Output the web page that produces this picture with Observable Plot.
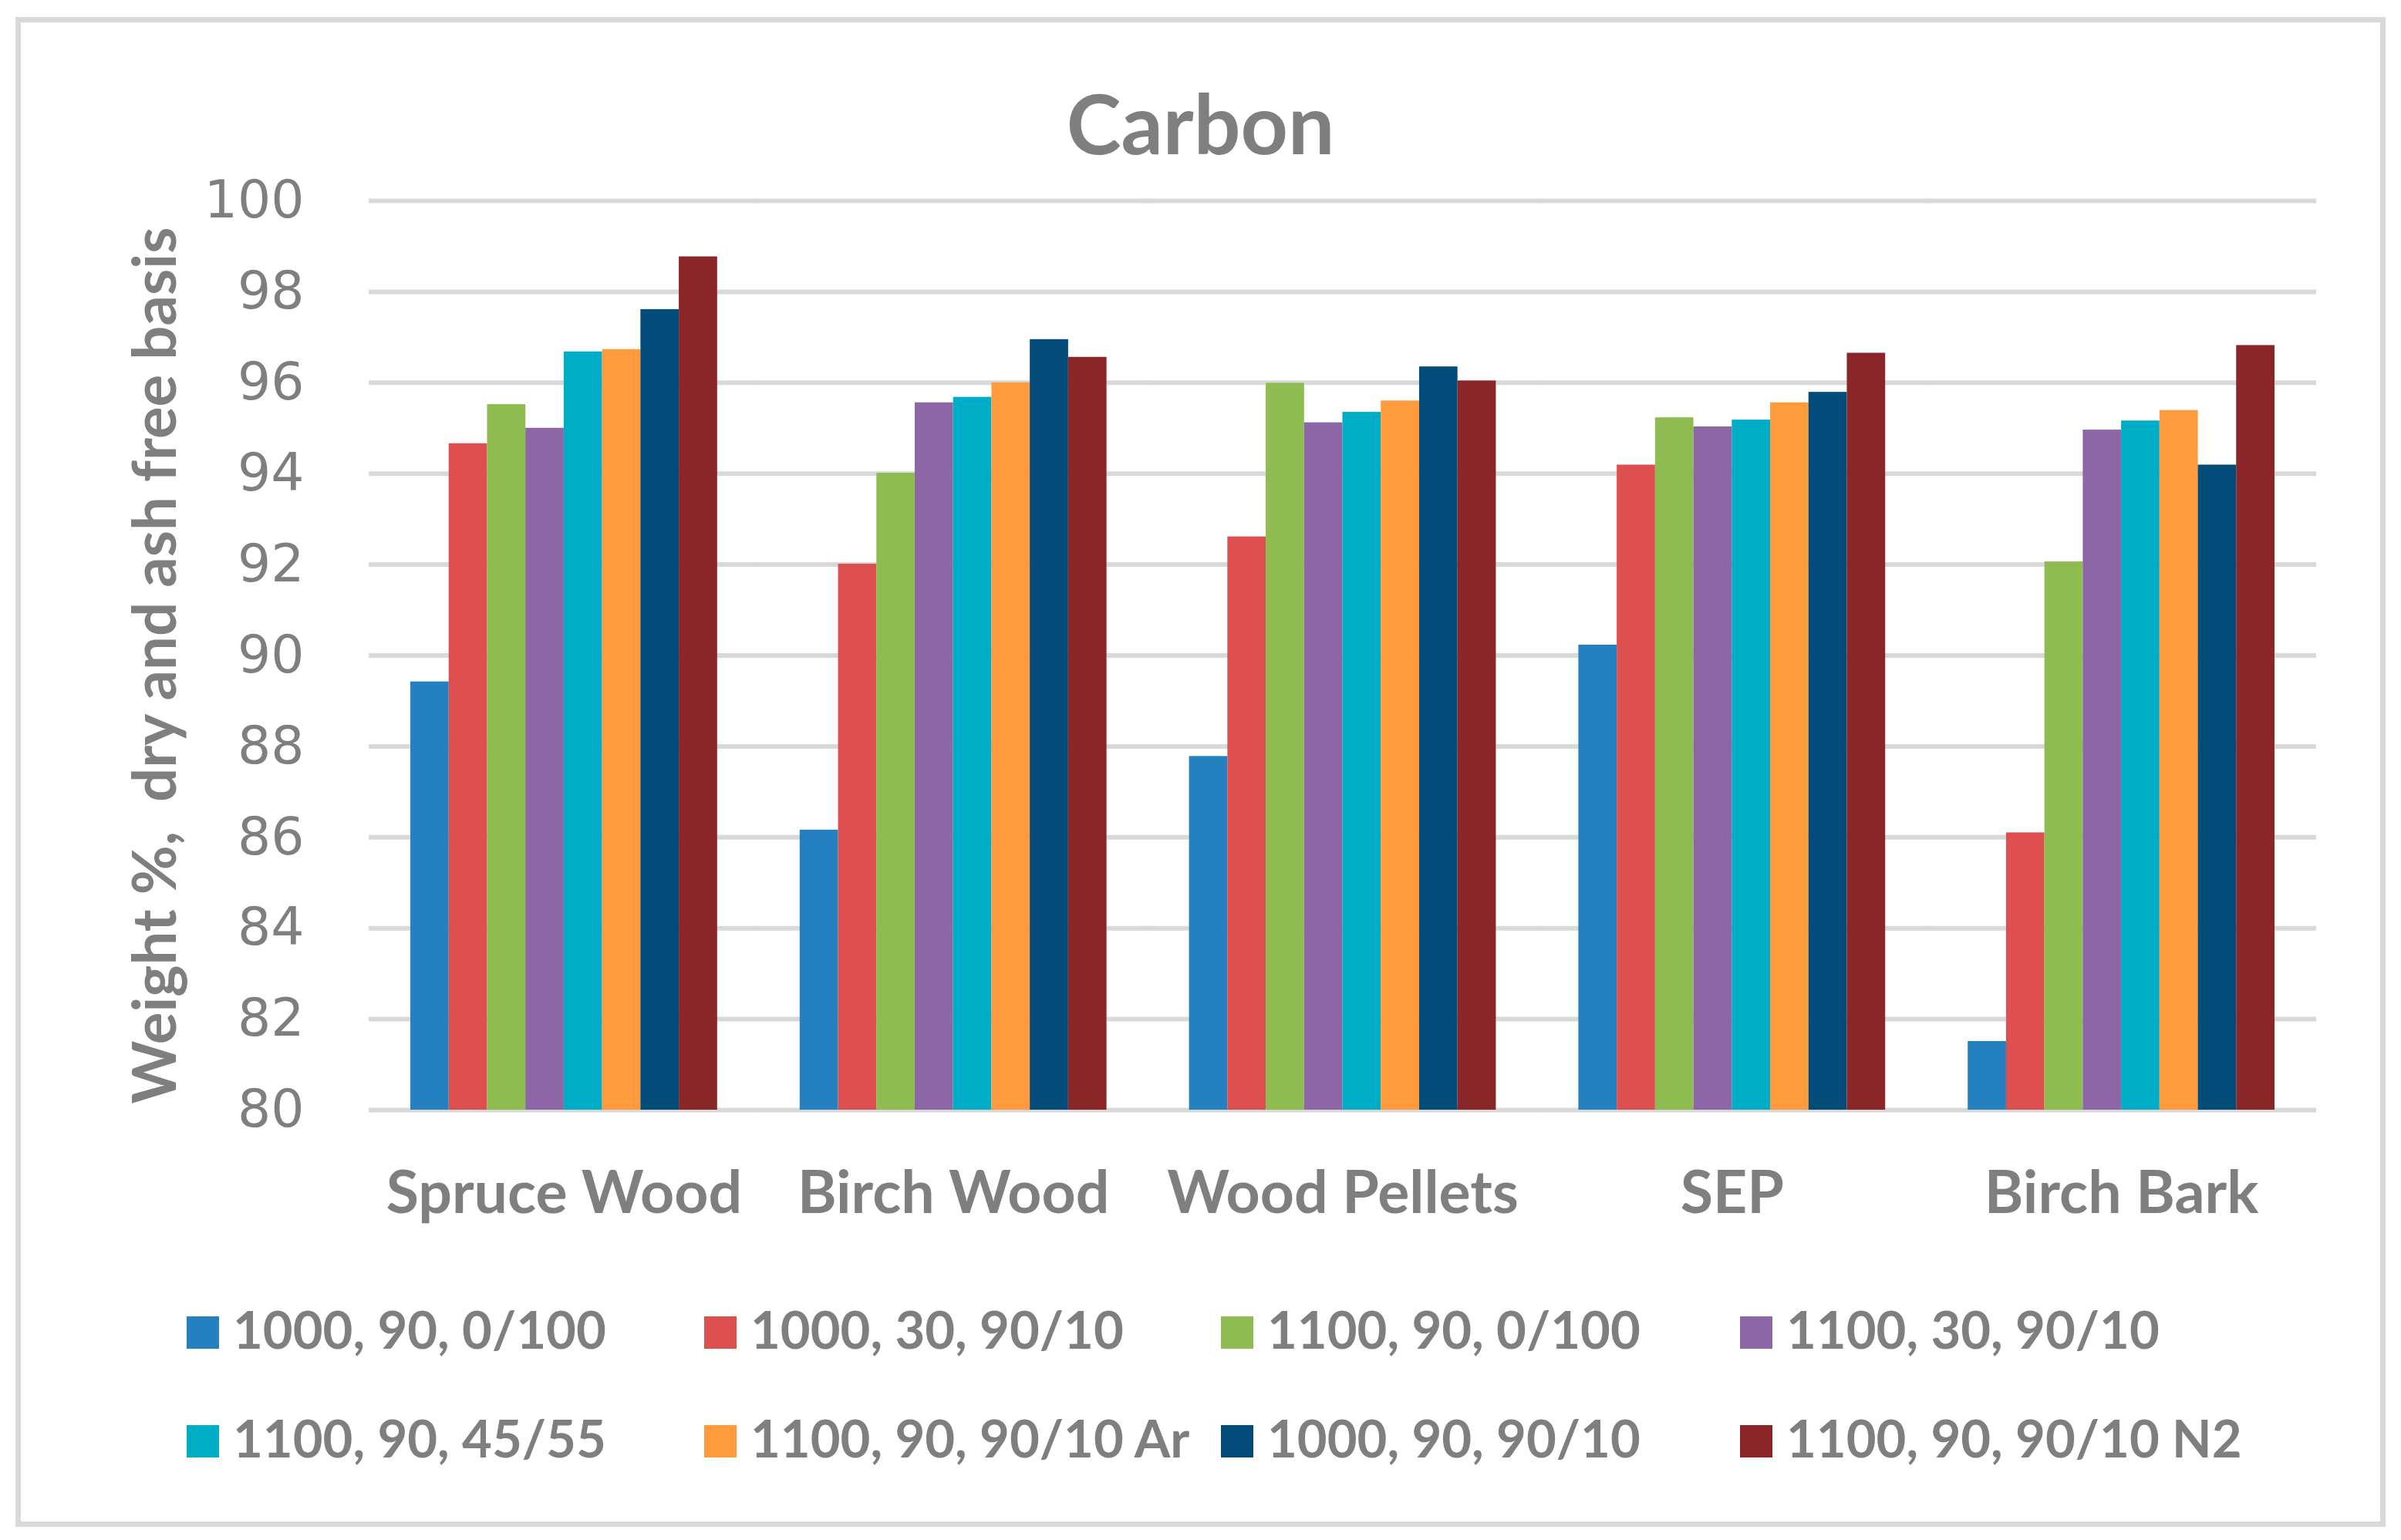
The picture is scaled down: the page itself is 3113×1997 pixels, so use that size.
<!DOCTYPE html>
<html>
<head>
<meta charset="utf-8">
<script src="https://cdn.jsdelivr.net/npm/d3@7"></script>
<script src="https://cdn.jsdelivr.net/npm/@observablehq/plot@0.6"></script>
<style>
  html, body { margin: 0; padding: 0; background: #fff; }
  #wrap { position: relative; width: 3113px; height: 1997px; overflow: hidden; background: #fff; }
  #frame { position: absolute; left: 20px; top: 22px; width: 3073px; height: 1958px; box-sizing: border-box; border: 7px solid #d9d9d9; }
  #chart { position: absolute; left: 0; top: 0; }
  .txt { position: absolute; font-family: Lato, "Open Sans", sans-serif; font-weight: bold; color: #7f7f7f; line-height: 1; white-space: pre; }
  .sw { position: absolute; width: 42px; height: 42px; }
</style>
</head>
<body>
<div id="wrap">
  <div id="frame"></div>
  <div id="chart"></div>
</div>
<script>
// ---- data ----
const categories = ["Spruce Wood", "Birch Wood", "Wood Pellets", "SEP", "Birch Bark"];
const series = ["1000, 90, 0/100", "1000, 30, 90/10", "1100, 90, 0/100", "1100, 30, 90/10",
                "1100, 90, 45/55", "1100, 90, 90/10 Ar", "1000, 90, 90/10", "1100, 90, 90/10 N2"];
const colors = ["#2580c0", "#de5050", "#8fbc51", "#8c66a5", "#00adc6", "#ff9a3d", "#034c79", "#8a2627"];
const s1000_90_0_100  = [89.42, 86.16, 87.78, 90.23, 81.51];
const s1000_30_90_10  = [94.66, 92.01, 92.61, 94.19, 86.10];
const s1100_90_0_100  = [95.52, 94.01, 95.99, 95.23, 92.06];
const s1100_30_90_10  = [95.00, 95.56, 95.12, 95.03, 94.96];
const s1100_90_45_55  = [96.68, 95.68, 95.35, 95.18, 95.16];
const s1100_90_90_10Ar = [96.73, 96.00, 95.60, 95.56, 95.39];
const s1000_90_90_10  = [97.61, 96.95, 96.35, 95.79, 94.19];
const s1100_90_90_10N2 = [98.77, 96.56, 96.04, 96.65, 96.82];
const yTicks = [80, 82, 84, 86, 88, 90, 92, 94, 96, 98, 100];
const titleText = "Carbon";
const yLabelText = "Weight %,  dry and ash free basis";

const seriesValues = [s1000_90_0_100, s1000_30_90_10, s1100_90_0_100, s1100_30_90_10,
                      s1100_90_45_55, s1100_90_90_10Ar, s1000_90_90_10, s1100_90_90_10N2];
const table = [];
categories.forEach((c, ci) => series.forEach((s, si) => table.push({cat: c, series: s, value: seriesValues[si][ci]})));

// ---- plot ----
const W = 3113, H = 1640, mL = 478, mR = 110, mT = 260, mB = 201;
const pInner = 0.212, pOuter = 0.107;
const step = (W - mL - mR) / (categories.length - pInner + 2 * pOuter);
const halfGap = step * pOuter;

const plot = Plot.plot({
  width: W, height: H,
  marginLeft: mL, marginRight: mR, marginTop: mT, marginBottom: mB,
  style: {background: "transparent", color: "#7f7f7f", overflow: "visible"},
  fx: {domain: categories, paddingInner: pInner, paddingOuter: pOuter, label: null, round: false},
  x: {domain: series, padding: 0, axis: null, round: false},
  y: {domain: [80, 100], label: null},
  color: {domain: series, range: colors},
  marks: [
    Plot.ruleY(yTicks, {stroke: "#d9d9d9", strokeWidth: 6, insetLeft: -halfGap, insetRight: -halfGap}),
    Plot.barY(table, {fx: "cat", x: "series", y1: 80, y2: "value", fill: "series"}),
    Plot.axisY({ticks: yTicks, tickSize: 0, tickPadding: 136 - halfGap + 56, fontSize: 68, fontFamily: "DejaVu Sans", fill: "#7f7f7f", label: null}),
    Plot.axisFx({anchor: "bottom", tickSize: 0, tickPadding: 79, fontSize: 77, fontWeight: "bold", fontFamily: "Lato", fill: "#7f7f7f", label: null})
  ]
});
document.getElementById("chart").appendChild(plot);

// ---- title, y label, legend ----
const wrap = document.getElementById("wrap");
function addText(text, size, baseline, opts = {}) {
  const d = document.createElement("div");
  d.className = "txt";
  d.textContent = text;
  d.style.fontSize = size + "px";
  d.style.top = (baseline - 0.887 * size) + "px";
  Object.assign(d.style, opts);
  wrap.appendChild(d);
  return d;
}
addText(titleText, 107, 200, {left: "0px", width: W + "px", textAlign: "center"});

const yl = document.createElement("div");
yl.className = "txt";
yl.textContent = yLabelText;
yl.style.fontSize = "78px";
yl.style.width = "1400px";
yl.style.height = "78px";
yl.style.textAlign = "center";
yl.style.left = (198 - 700) + "px";
yl.style.top = (863 - 39) + "px";
yl.style.transform = "rotate(-90deg)";
wrap.appendChild(yl);

const colX = [242, 913, 1583, 2256];
const rowTop = [1707, 1848];
series.forEach((s, i) => {
  const x = colX[i % 4], t = rowTop[Math.floor(i / 4)];
  const sw = document.createElement("div");
  sw.className = "sw";
  sw.style.left = x + "px";
  sw.style.top = t + "px";
  sw.style.background = colors[i];
  wrap.appendChild(sw);
  addText(s, 67, t + 42, {left: (x + 60) + "px"});
});
</script>
</body>
</html>
